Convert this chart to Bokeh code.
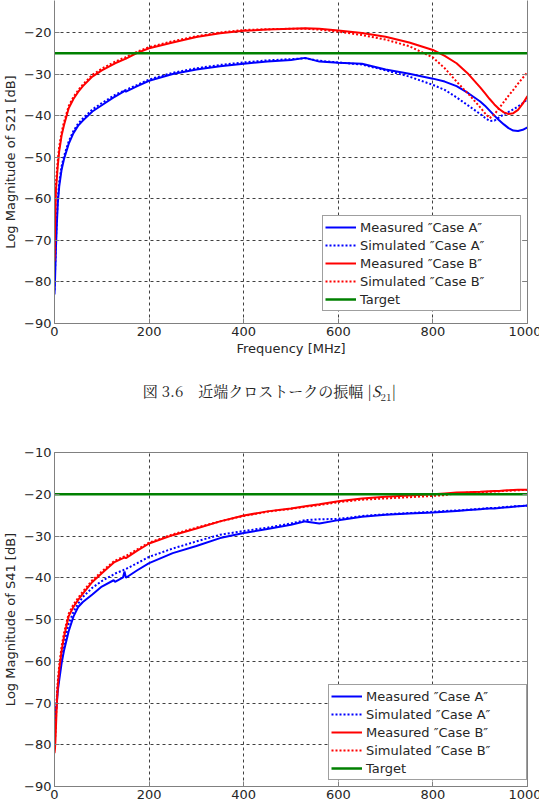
from bokeh.plotting import figure
from bokeh.models import Range1d, FixedTicker, LinearAxis, Legend, LegendItem, Div
from bokeh.layouts import column
from bokeh.embed import file_html
from bokeh.resources import INLINE

# ---------------- data ----------------
freq = [0, 1, 2, 3, 5, 7, 10, 15, 20, 30, 40, 50, 60, 80, 100, 125, 128, 145, 148, 151, 175,
        200, 250, 300, 350, 400, 450, 500, 530, 560, 600, 650, 700, 750, 800, 825, 850,
        875, 900, 910, 920, 930, 940, 950, 960, 970, 980, 990, 1000]

# |S21|
s21_meas_a = [-83, -80, -76, -72, -66, -61, -57, -53, -50.5, -46.8, -44.2, -42.4, -41.2, -39,
              -37.5, -35.6, -35.4, -34.3, -34, -34.2, -32.9, -31.6, -30, -28.9, -28.1, -27.5,
              -27, -26.6, -26.1, -27, -27.3, -27.5, -28.9, -29.9, -31.1, -31.8, -32.9, -34.6,
              -36.6, -37.6, -38.8, -40, -41.1, -42.1, -43, -43.6, -43.7, -43.4, -42.8]
s21_sim_a = [-82, -78, -74, -70, -64.5, -60, -56, -52.2, -49.8, -46.2, -43.7, -41.9, -40.7,
             -38.5, -37, -35.2, -35, -34.1, -33.9, -33.8, -32.6, -31.3, -29.7, -28.6, -27.8,
             -27.2, -26.7, -26.4, -26.2, -26.8, -27.2, -27.7, -29.1, -30.6, -32.6, -33.8,
             -35.6, -37.6, -39.6, -40.5, -41.3, -41.2, -40.4, -39.7, -39.1, -38.5, -37.8, -37,
             -36]
s21_meas_b = [-75, -68, -62, -58, -55, -52, -48.5, -44.8, -42.3, -38.2, -36, -34.3, -32.9,
              -30.6, -29.1, -27.6, -27.4, -26.6, -26.4, -26.3, -24.9, -23.8, -22.4, -21.1,
              -20.2, -19.6, -19.3, -19.1, -19, -19.1, -19.5, -20.1, -21, -22.4, -24.2, -25.6,
              -27.4, -30, -33.2, -34.6, -36, -37.3, -38.4, -39.2, -39.6, -39.4, -38.6, -37.1,
              -35.3]
s21_sim_b = [-74, -66, -60, -56.5, -53.5, -50.8, -47.5, -44, -41.6, -37.7, -35.5, -33.9, -32.5,
             -30.2, -28.7, -27.2, -27, -26.2, -26.1, -25.9, -24.6, -23.5, -22.1, -20.9, -20,
             -19.4, -19.2, -19.1, -19.1, -19.3, -19.8, -20.6, -21.7, -23.3, -26, -28.6, -31.8,
             -34.8, -38, -39.4, -40.6, -39.7, -38.2, -36.7, -35.2, -33.8, -32.3, -30.9, -29.6]
s21_target = -25

# |S41|
s41_meas_a = [-75, -74, -73, -72, -70, -67, -64.5, -60.5, -57.5, -52.8, -49.3, -47, -45.8,
              -44, -42.1, -40.6, -41, -39.9, -38.5, -40, -38.2, -36.5, -34.1, -32.4, -30.5,
              -29.3, -28.3, -27.3, -26.5, -27, -26.2, -25.4, -24.9, -24.6, -24.4, -24.2, -24,
              -23.8, -23.6, -23.5, -23.4, -23.4, -23.3, -23.2, -23.1, -23, -22.9, -22.8, -22.7]
s41_sim_a = [-76, -75, -73.5, -72, -69, -66, -63, -59, -56, -51, -48.2, -46.2, -44.6, -42.4,
             -40.8, -39.2, -39, -38.2, -38, -37.9, -36.5, -35, -33, -31.3, -29.7, -28.8, -28,
             -27, -26.2, -26, -25.9, -25.2, -24.8, -24.5, -24.2, -24, -23.9, -23.7, -23.5,
             -23.4, -23.3, -23.3, -23.2, -23.1, -23, -22.9, -22.85, -22.8, -22.7]
s41_meas_b = [-82, -81, -79, -76, -70, -66, -62, -57.5, -54.2, -49.2, -47, -45.3, -43.8, -41,
              -38.9, -36.4, -36.2, -35.3, -35.1, -35.3, -33.5, -31.8, -29.8, -28.2, -26.5,
              -25.1, -24.1, -23.4, -22.9, -22.4, -21.7, -21, -20.6, -20.3, -20, -19.8, -19.6,
              -19.5, -19.4, -19.35, -19.3, -19.25, -19.2, -19.1, -19.05, -19, -18.95, -18.9,
              -18.9]
s41_sim_b = [-81, -79, -77, -74, -68.5, -64.8, -61, -56.5, -53.3, -48.6, -46.4, -44.8, -43.3,
             -40.6, -38.5, -36.1, -35.9, -35, -34.9, -34.8, -33.2, -31.6, -29.6, -28, -26.5,
             -25.2, -24.2, -23.5, -23, -22.6, -21.9, -21.3, -21, -20.7, -20.4, -20.2, -19.8,
             -19.6, -19.5, -19.45, -19.4, -19.35, -19.3, -19.2, -19.15, -19.1, -19.05, -19,
             -19]
s41_target = -20

x_ticks = [0, 200, 400, 600, 800, 1000]
y_ticks_21 = [-90, -80, -70, -60, -50, -40, -30, -20]
y_ticks_41 = [-90, -80, -70, -60, -50, -40, -30, -20, -10]
legend_labels = ["Measured \u2033Case A\u2033", "Simulated \u2033Case A\u2033",
                 "Measured \u2033Case B\u2033", "Simulated \u2033Case B\u2033", "Target"]

FONT = "DejaVu Sans"
AXIS_COLOR = "#808080"
TEXT_COLOR = "#262626"


def style_axis(ax, ticks):
    ax.ticker = FixedTicker(ticks=ticks)
    ax.minor_tick_line_color = None
    ax.major_tick_in = 5
    ax.major_tick_out = 0
    ax.axis_line_color = AXIS_COLOR
    ax.major_tick_line_color = AXIS_COLOR
    ax.major_label_text_font = FONT
    ax.major_label_text_font_size = "13px"
    ax.major_label_text_color = TEXT_COLOR
    ax.axis_label_text_font = FONT
    ax.axis_label_text_font_style = "normal"
    ax.axis_label_text_color = TEXT_COLOR
    ax.major_label_overrides = {t: str(t).replace("-", "\u2212") for t in ticks}


def make_fig(y_end, y_ticks, ylab, xlab, series, target, frame_h, top_b, bottom_b,
             outline, legend_loc):
    p = figure(frame_width=473, frame_height=frame_h, output_backend="svg",
               toolbar_location=None, x_range=Range1d(0, 1000), y_range=Range1d(-90, y_end),
               min_border_left=52, min_border_right=14, min_border_top=top_b,
               min_border_bottom=bottom_b)
    p.background_fill_color = "white"
    p.border_fill_color = "white"
    p.outline_line_color = AXIS_COLOR if outline else None
    style_axis(p.xaxis[0], x_ticks)
    style_axis(p.yaxis[0], y_ticks)
    p.xaxis[0].major_label_standoff = 3
    p.yaxis[0].major_label_standoff = 3
    p.yaxis[0].axis_label = ylab
    p.yaxis[0].axis_label_text_font_size = "13px"
    p.yaxis[0].axis_label_standoff = 3
    if xlab:
        p.xaxis[0].axis_label = xlab
        p.xaxis[0].axis_label_text_font_size = "13px"
        p.xaxis[0].axis_label_standoff = 2
    ra = LinearAxis()
    style_axis(ra, y_ticks)
    ra.major_label_overrides = {t: "" for t in y_ticks}
    ra.major_label_text_font_size = "0px"
    ra.major_label_standoff = 0
    p.add_layout(ra, "right")
    for g in (p.xgrid[0], p.ygrid[0]):
        g.grid_line_color = "black"
        g.grid_line_alpha = 0.75
        g.grid_line_dash = "3 3"
        g.grid_line_width = 1
    p.xgrid[0].ticker = FixedTicker(ticks=x_ticks)
    p.ygrid[0].ticker = FixedTicker(ticks=y_ticks)

    ma, sa, mb, sb = series
    r1 = p.line(freq, ma, line_color="#0000ff", line_width=2)
    r2 = p.line(freq, sa, line_color="#0000ff", line_width=2, line_dash="2 2")
    r3 = p.line(freq, mb, line_color="#ff0000", line_width=2)
    r4 = p.line(freq, sb, line_color="#ff0000", line_width=2, line_dash="2 2")
    r5 = p.line([x_ticks[0], x_ticks[-1]], [target, target], line_color="#008000", line_width=2.5)
    items = [LegendItem(label=l, renderers=[r]) for l, r in zip(legend_labels, [r1, r2, r3, r4, r5])]
    lg = Legend(items=items, location=legend_loc)
    lg.label_text_font = FONT
    lg.label_text_font_size = "13px"
    lg.label_text_color = TEXT_COLOR
    lg.label_height = 18
    lg.glyph_height = 18
    lg.glyph_width = 31
    lg.label_width = 158
    lg.label_standoff = 4
    lg.spacing = 0
    lg.padding = 2
    lg.margin = 0
    lg.border_line_color = "#404040"
    lg.border_line_width = 1
    lg.background_fill_alpha = 1
    p.add_layout(lg, "center")
    return p


p1 = make_fig(-12.3, y_ticks_21, "Log Magnitude of S21 [dB]", "Frequency [MHz]",
              (s21_meas_a, s21_sim_a, s21_meas_b, s21_sim_b), s21_target,
              323, 0, 47, False, (268, 12))
p2 = make_fig(-10, y_ticks_41, "Log Magnitude of S41 [dB]", None,
              (s41_meas_a, s41_sim_a, s41_meas_b, s41_sim_b), s41_target,
              334, 41, 0, True, (274, 6))

caption = Div(
    text=('<div style="width:539px;text-align:center;'
          "font-family:'Noto Serif CJK JP','Liberation Serif',serif;"
          'font-size:15px;line-height:41px;color:#222;">'
          '図 3.6\u3000近端クロストークの振幅 |<i>S</i><sub style="font-size:10px">21</sub>|</div>'),
    width=539, height=41, margin=0)

layout = column(p1, caption, p2, spacing=0)
open("out.html", "w").write(file_html(layout, INLINE))
